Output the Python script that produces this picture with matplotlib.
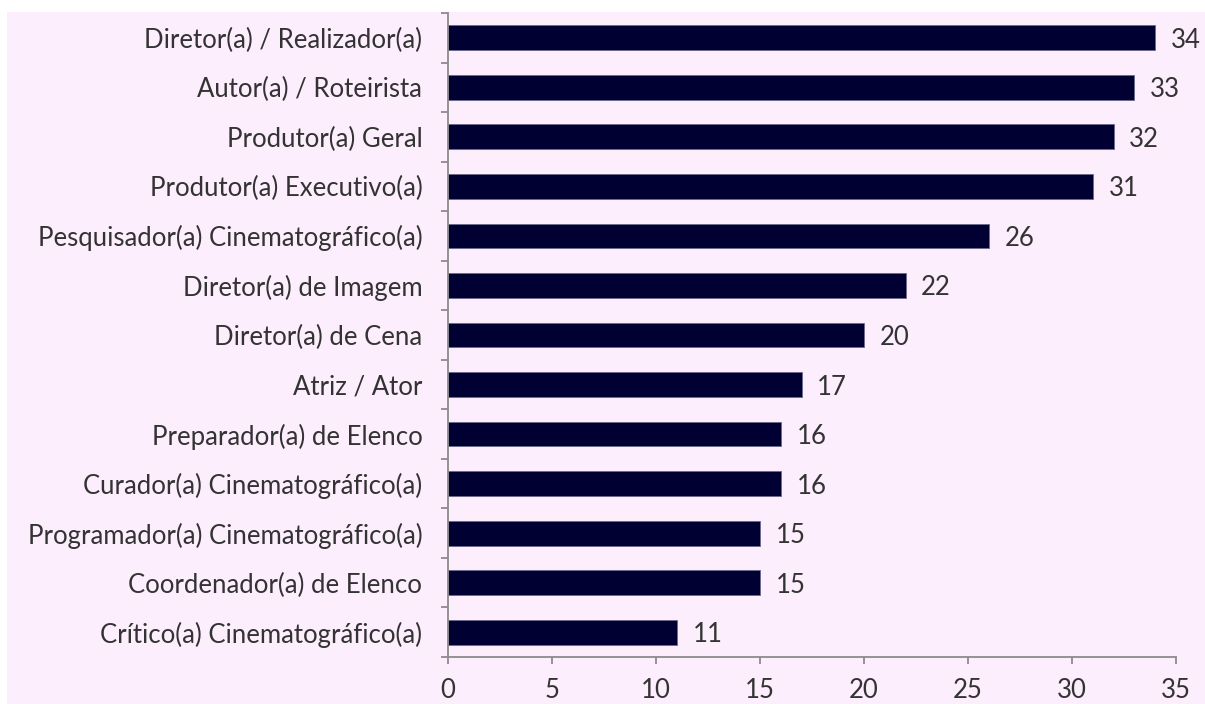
import matplotlib
matplotlib.use("Agg")
import matplotlib.pyplot as plt
import numpy as np
from matplotlib.patches import Rectangle

categories = [
    "Diretor(a) / Realizador(a)",
    "Autor(a) / Roteirista",
    "Produtor(a) Geral",
    "Produtor(a) Executivo(a)",
    "Pesquisador(a) Cinematográfico(a)",
    "Diretor(a) de Imagem",
    "Diretor(a) de Cena",
    "Atriz / Ator",
    "Preparador(a) de Elenco",
    "Curador(a) Cinematográfico(a)",
    "Programador(a) Cinematográfico(a)",
    "Coordenador(a) de Elenco",
    "Crítico(a) Cinematográfico(a)",
]
values = [34, 33, 32, 31, 26, 22, 20, 17, 16, 16, 15, 15, 11]
xticks = [0, 5, 10, 15, 20, 25, 30, 35]

plt.rcParams['font.family'] = ['Lato', 'DejaVu Sans']
bg = "#FDEEFD"
fs = 18.5
fig = plt.figure(figsize=(12.05, 7.04), dpi=100, facecolor="white")
fig.patches.append(Rectangle((7/1205, 0), 1, 1 - 12/704, transform=fig.transFigure,
                             facecolor=bg, edgecolor="none", zorder=-100))
ax = fig.add_axes([448/1205, 1 - 657/704, (1176 - 448)/1205, (657 - 13)/704])
ax.set_zorder(5)
ax.patch.set_visible(False)

n = len(categories)
y = np.arange(n)
ax.barh(y, values, height=0.5, color="#000033", edgecolor="#6a6a8a", linewidth=0.6)
ax.set_ylim(n - 0.5, -0.5)
ax.set_xlim(0, 35)
ax.set_xticks(xticks)
ax.set_xticklabels([str(t) for t in xticks])
ax.set_yticks(y)
ax.set_yticklabels(categories)
ax.set_yticks(np.arange(n + 1) - 0.5, minor=True)
ax.tick_params(axis='y', which='major', length=0, pad=18.5, labelsize=fs, labelcolor="#333333")
ax.tick_params(axis='y', which='minor', length=5, width=1.3, color="#8c8c8c")
ax.tick_params(axis='x', which='major', length=5, width=1.3, color="#8c8c8c",
               labelsize=fs, labelcolor="#333333", pad=10)
for s in ['top', 'right']:
    ax.spines[s].set_visible(False)
for s in ['left', 'bottom']:
    ax.spines[s].set_color("#8c8c8c")
    ax.spines[s].set_linewidth(1.3)

for yi, v in zip(y, values):
    ax.text(v + 0.75, yi, str(v), va='center_baseline', ha='left', fontsize=fs, color="#333333")

fig.savefig("out.png", dpi=100, facecolor="white")
